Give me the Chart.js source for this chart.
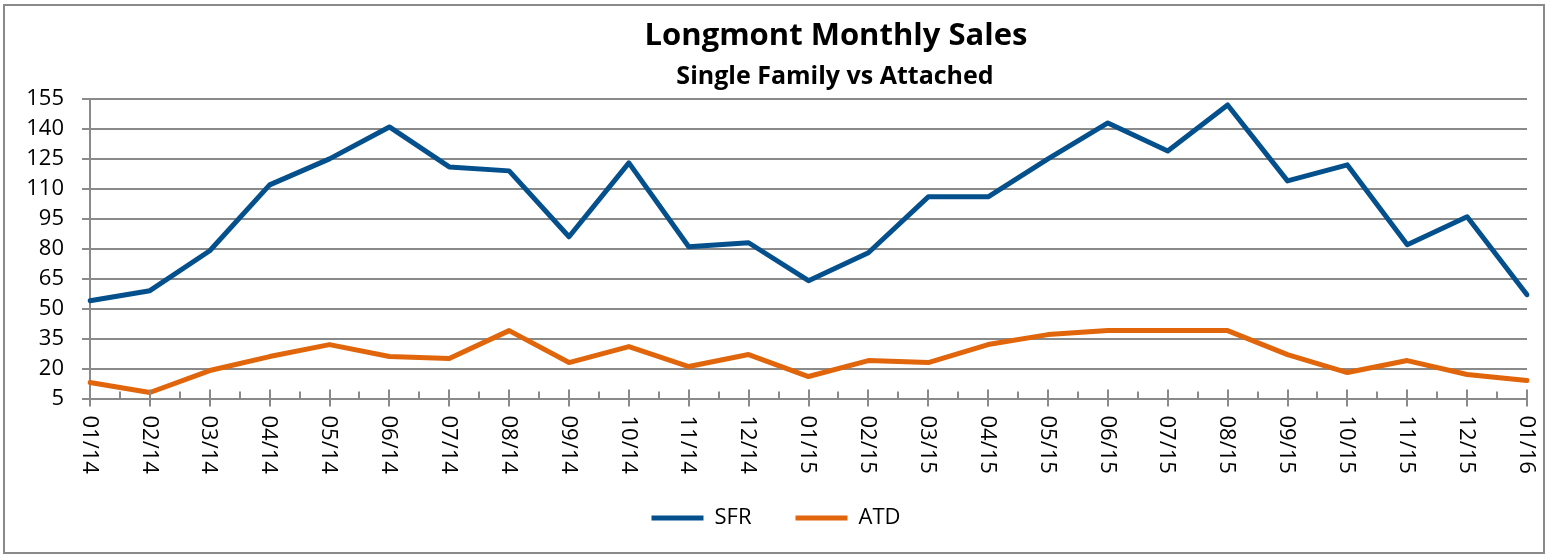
<!DOCTYPE html>
<html>
<head>
<meta charset="utf-8">
<script src="https://cdn.jsdelivr.net/npm/chart.js@4/dist/chart.umd.min.js"></script>
<style>
  html, body { margin: 0; padding: 0; background: #ffffff; }
  #c { display: block; }
</style>
</head>
<body>
<canvas id="c" width="1552" height="554"></canvas>
<script>
// ---- data ----
const months = ['01/14','02/14','03/14','04/14','05/14','06/14','07/14','08/14','09/14','10/14','11/14','12/14',
                '01/15','02/15','03/15','04/15','05/15','06/15','07/15','08/15','09/15','10/15','11/15','12/15','01/16'];
const sfrValues = [54, 59, 79, 112, 125, 141, 121, 119, 86, 123, 81, 83, 64, 78, 106, 106, 125, 143, 129, 152, 114, 122, 82, 96, 57];
const atdValues = [13, 8, 19, 26, 32, 26, 25, 39, 23, 31, 21, 27, 16, 24, 23, 32, 37, 39, 39, 39, 27, 18, 24, 17, 14];
const yTicks = [5, 20, 35, 50, 65, 80, 95, 110, 125, 140, 155];
const titleText = 'Longmont Monthly Sales';
const subtitleText = 'Single Family vs Attached';

const GRID = '#8a8a8a';
const FONT = '"Open Sans", Lato, sans-serif';

const framePlugin = {
  id: 'frame',
  beforeDraw(chart) {
    const ctx = chart.ctx;
    ctx.save();
    ctx.fillStyle = '#ffffff';
    ctx.fillRect(0, 0, chart.width, chart.height);
    ctx.strokeStyle = GRID;
    ctx.lineWidth = 2;
    ctx.strokeRect(4, 5, 1540, 548);
    ctx.restore();
  }
};

const titlesPlugin = {
  id: 'titles',
  afterDraw(chart) {
    const ctx = chart.ctx;
    ctx.save();
    ctx.fillStyle = '#000';
    ctx.textAlign = 'center';
    ctx.textBaseline = 'alphabetic';
    ctx.font = 'bold 31px ' + FONT;
    ctx.fillText(titleText, 836, 45);
    ctx.font = 'bold 25px ' + FONT;
    ctx.fillText(subtitleText, 835, 84);
    ctx.restore();
  }
};

const xAxisPlugin = {
  id: 'xAxisDecor',
  afterDatasetsDraw(chart) {
    const ctx = chart.ctx;
    const xs = chart.scales.x;
    const bottom = chart.chartArea.bottom;
    ctx.save();
    ctx.strokeStyle = GRID;
    ctx.lineWidth = 2;
    ctx.beginPath();
    for (let i = 0; i < months.length; i++) {
      const x = Math.round(xs.getPixelForTick(i));
      ctx.moveTo(x, bottom - 9);
      ctx.lineTo(x, bottom + 8);
      if (i < months.length - 1) {
        const xm = Math.round(xs.getPixelForValue(i + 0.5));
        ctx.moveTo(xm, bottom - 7);
        ctx.lineTo(xm, bottom);
      }
    }
    ctx.stroke();
    ctx.fillStyle = '#000';
    ctx.font = '22px ' + FONT;
    ctx.textAlign = 'left';
    ctx.textBaseline = 'middle';
    for (let i = 0; i < months.length; i++) {
      const x = xs.getPixelForTick(i);
      ctx.save();
      ctx.translate(x - 1, bottom + 17);
      ctx.rotate(Math.PI / 2);
      ctx.fillText(months[i], 0, 0);
      ctx.restore();
    }
    ctx.restore();
  }
};

new Chart(document.getElementById('c'), {
  type: 'line',
  data: {
    labels: months,
    datasets: [
      { label: 'SFR', data: sfrValues, borderColor: '#03508c', backgroundColor: '#03508c',
        borderWidth: 5, pointRadius: 0, tension: 0, borderJoinStyle: 'round', borderCapStyle: 'round', pointStyle: 'line' },
      { label: 'ATD', data: atdValues, borderColor: '#e0650b', backgroundColor: '#e0650b',
        borderWidth: 5, pointRadius: 0, tension: 0, borderJoinStyle: 'round', borderCapStyle: 'round', pointStyle: 'line' }
    ]
  },
  options: {
    responsive: false,
    devicePixelRatio: 1,
    animation: false,
    layout: { padding: { top: 99, left: 25, right: 25, bottom: 15 } },
    plugins: {
      title: { display: false },
      tooltip: { enabled: false },
      legend: {
        position: 'bottom',
        labels: {
          usePointStyle: true,
          pointStyle: 'line',
          pointStyleWidth: 52,
          boxHeight: 5,
          padding: 44,
          color: '#000',
          font: { family: FONT, size: 22 }
        }
      }
    },
    scales: {
      x: {
        type: 'category',
        offset: false,
        grid: { display: false },
        border: { display: true, color: GRID, width: 2 },
        ticks: { display: false },
        afterFit(scale) { scale.height = 64.5; }
      },
      y: {
        min: 5,
        max: 155,
        afterBuildTicks(scale) { scale.ticks = yTicks.map(v => ({ value: v })); },
        grid: { color: GRID, lineWidth: 2, tickLength: 8, drawTicks: true, tickColor: GRID },
        border: { display: true, color: GRID, width: 2 },
        ticks: { color: '#000', font: { family: FONT, size: 22 }, padding: 18 },
        afterFit(scale) { scale.width = 65; }
      }
    }
  },
  plugins: [framePlugin, titlesPlugin, xAxisPlugin]
});
</script>
</body>
</html>
